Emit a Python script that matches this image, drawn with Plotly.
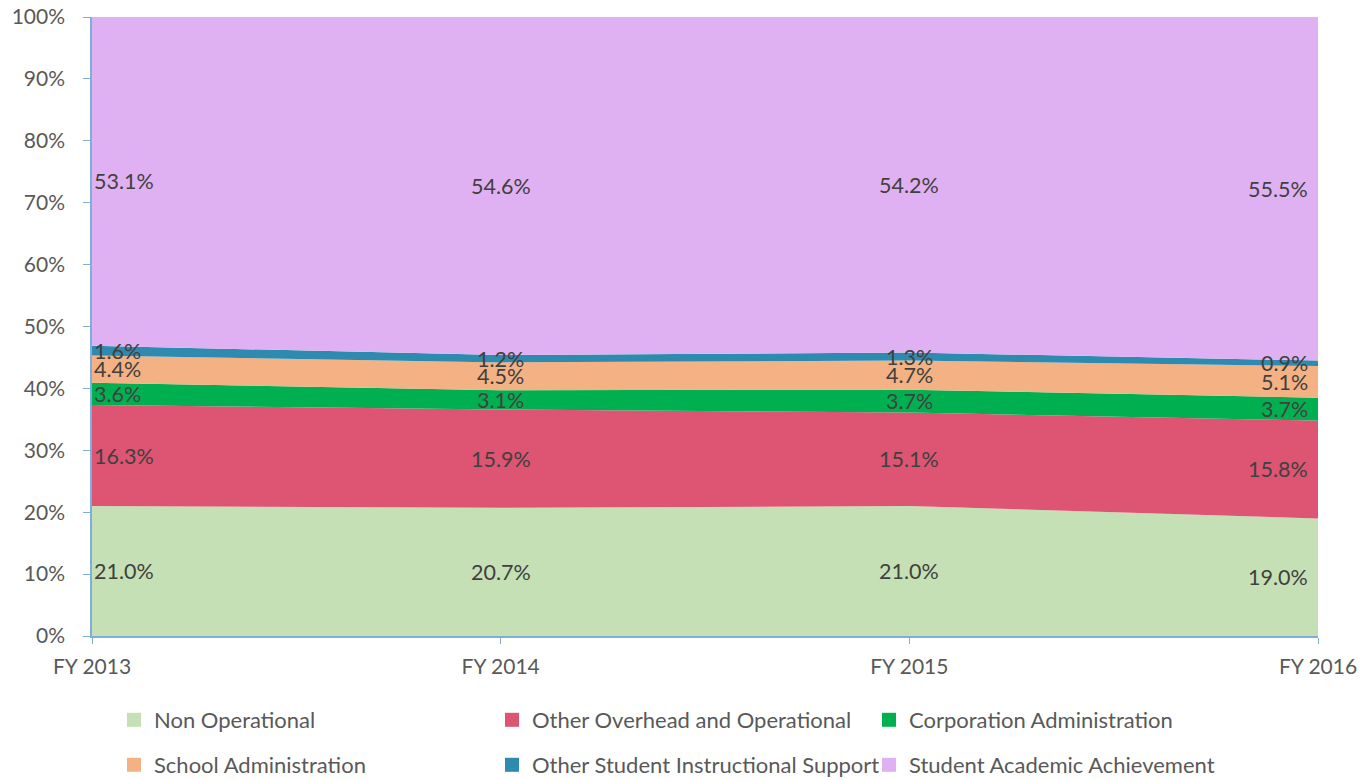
import plotly.graph_objects as go

years = ["FY 2013", "FY 2014", "FY 2015", "FY 2016"]
series_names = [
    "Non Operational",
    "Other Overhead and Operational",
    "Corporation Administration",
    "School Administration",
    "Other Student Instructional Support",
    "Student Academic Achievement",
]
non_operational = [21.0, 20.7, 21.0, 19.0]
other_overhead = [16.3, 15.9, 15.1, 15.8]
corporation_admin = [3.6, 3.1, 3.7, 3.7]
school_admin = [4.4, 4.5, 4.7, 5.1]
other_student_support = [1.6, 1.2, 1.3, 0.9]
student_achievement = [53.1, 54.6, 54.2, 55.5]
y_ticks = [0, 10, 20, 30, 40, 50, 60, 70, 80, 90, 100]

colors = ["#C5E0B4", "#DE5473", "#00B050", "#F4B183", "#2E8BAF", "#E0B1F2"]
all_series = [non_operational, other_overhead, corporation_admin,
              school_admin, other_student_support, student_achievement]

FONT = "Lato, 'Open Sans', sans-serif"
x_idx = list(range(len(years)))

W, H = 1362, 780
# legend grid: pixel x where each legend entry's text starts, row centres
leg_text_x = [154, 532, 909]
leg_rows_px = [720, 765]

fig = go.Figure()
for name, vals, col in zip(series_names, all_series, colors):
    fig.add_trace(go.Scatter(
        x=x_idx, y=vals, name=name, stackgroup="one", groupnorm="percent",
        mode="none", fillcolor=col, showlegend=False, hoverinfo="skip",
    ))

legend_layouts = {}
for k, (name, col) in enumerate(zip(series_names, colors)):
    lid = "legend" if k == 0 else f"legend{k + 1}"
    fig.add_trace(go.Scatter(
        x=[None], y=[None], name=name, mode="markers",
        marker=dict(symbol="square", size=14, color=col, line=dict(width=0)),
        legend=lid, showlegend=True, hoverinfo="skip",
    ))
    tx = leg_text_x[k % 3] - 40
    cy = leg_rows_px[k // 3]
    legend_layouts[lid] = dict(
        orientation="h", xref="container", yref="container",
        x=tx / W, y=1 - cy / H, xanchor="left", yanchor="middle",
        font=dict(family=FONT, size=22, color="#595959"),
        itemwidth=30, bgcolor="rgba(0,0,0,0)", borderwidth=0, visible=True,
    )

# data labels at the middle of each band
annotations = []
base = [0.0] * len(years)
for vals in all_series:
    for i, v in enumerate(vals):
        total = sum(s[i] for s in all_series)
        mid = (base[i] + v / 2) / total * 100
        if i == 0:
            xa, xs = "left", 0
        elif i == len(years) - 1:
            xa, xs = "right", -8
        else:
            xa, xs = "center", 0
        annotations.append(dict(
            x=i, y=mid, xref="x", yref="y", text=f"{v:.1f}%", showarrow=False,
            xanchor=xa, xshift=xs, yanchor="middle",
            font=dict(family=FONT, size=21.5, color="#404040"),
        ))
    base = [b + v for b, v in zip(base, vals)]

axis_col = "#7FAEDD"
fig.update_layout(
    width=W, height=H, showlegend=True,
    margin=dict(l=92, r=44, t=17, b=144, autoexpand=False),
    paper_bgcolor="white", plot_bgcolor="white",
    font=dict(family=FONT, size=21, color="#595959"),
    annotations=annotations,
    xaxis=dict(
        range=[0, 3], tickvals=x_idx, ticktext=years, showgrid=False,
        zeroline=False, showline=True, linecolor=axis_col, linewidth=1.5,
        ticks="outside", ticklen=6, tickcolor=axis_col, ticklabelstandoff=5,
        automargin=False,
        tickfont=dict(family=FONT, size=21, color="#595959"),
    ),
    yaxis=dict(
        range=[0, 100], tickvals=y_ticks, ticktext=[f"{t}%" for t in y_ticks],
        showgrid=False, zeroline=False, showline=True, linecolor=axis_col,
        linewidth=1.5, ticks="outside", ticklen=7, tickcolor=axis_col,
        ticklabelstandoff=14, automargin=False,
        tickfont=dict(family=FONT, size=21, color="#595959"),
    ),
    **legend_layouts,
)

fig.write_html("out.html", config={"displayModeBar": False},
               post_script="document.body.style.margin='0';")
